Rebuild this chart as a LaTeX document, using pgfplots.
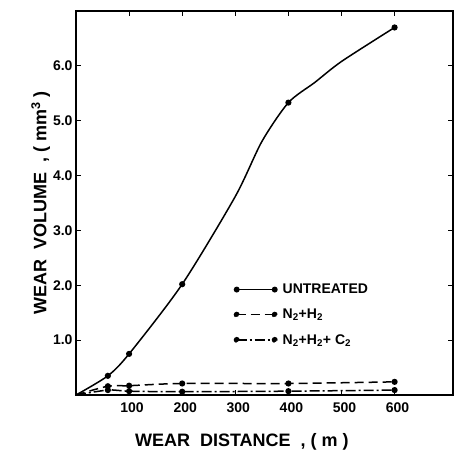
\documentclass[border=0pt]{standalone}
\usepackage{pgfplots}
\pgfplotsset{compat=1.18}
\usepackage{fontspec}
\setmainfont{Liberation Sans}

\begin{document}
\begin{tikzpicture}
\begin{axis}[scale only axis, width=377pt, height=384pt,
  xmin=0, xmax=710, ymin=0, ymax=7,
  axis line style={line width=1.4pt},
  xtick={100,200,...,600}, ytick={1,2,...,6},
  tick align=inside, major tick length=5pt, tick style={line width=1.2pt, black},
  yticklabel style={/pgf/number format/.cd, fixed, fixed zerofill, precision=1},
  /pgf/number format/assume math mode=true,
  tick label style={font=\fontsize{14}{16}\selectfont\bfseries},
  xticklabel style={yshift=-4pt, xshift=3pt},
  xlabel={WEAR\ \ DISTANCE\ \ ,\ ( m )},
  ylabel={WEAR\ \ VOLUME\ \ ,\ ( mm\textsuperscript{3} )},
  label style={font=\fontsize{18}{20}\selectfont\bfseries},
  xlabel style={at={(axis description cs:0.44,-0.09)}, anchor=north},
  ylabel style={yshift=-4pt},
  every axis plot/.append style={black, line width=1.5pt, mark=*, mark size=2.3pt,
    mark options={solid}},
  legend style={at={(axis description cs:0.41,0.30)}, anchor=north west, draw=none,
    fill=none, font=\fontsize{14}{16}\selectfont\bfseries, row sep=10pt,
    /tikz/every odd column/.append style={column sep=3pt}},
  legend cell align=left,
  legend image code/.code={
    \draw[#1, mark=none] (0pt,0pt) -- (38pt,0pt);
    \fill (0pt,0pt) circle (2.2pt);
    \fill (38pt,0pt) circle (2.2pt);
  },
]
\addplot[smooth, tension=0.45, mark indices={2,3,4,7,10}] coordinates {
  (0,0) (60,0.35) (100,0.75) (200,2.02) (300,3.62) (350,4.62) (400,5.33)
  (450,5.7) (500,6.08) (600,6.7)};
\addlegendentry{UNTREATED}
\addplot[smooth, dashed, dash pattern=on 9pt off 5pt, mark indices={2,3,4,5,6}] coordinates {
  (0,0) (60,0.16) (100,0.17) (200,0.21) (400,0.21) (600,0.24)};
\addlegendentry{N\textsubscript{2}+H\textsubscript{2}}
\addplot[smooth, dash pattern=on 10pt off 3pt on 2pt off 3pt, mark indices={2,3,4,5,6}] coordinates {
  (0,0) (60,0.09) (100,0.07) (200,0.06) (400,0.07) (600,0.09)};
\addlegendentry{N\textsubscript{2}+H\textsubscript{2}+ C\textsubscript{2}}
\end{axis}
\pgfresetboundingbox
\path[use as bounding box] ([xshift=-76pt,yshift=-58pt]current axis.south west)
  rectangle ([xshift=2pt,yshift=11pt]current axis.north east);
\end{tikzpicture}
\end{document}
